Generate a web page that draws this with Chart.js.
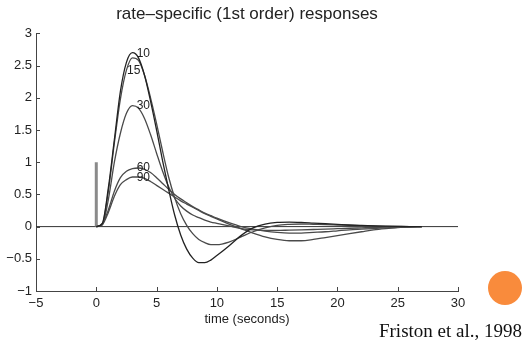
<!DOCTYPE html>
<html>
<head>
<meta charset="utf-8">
<script src="https://cdn.jsdelivr.net/npm/chart.js@4.4.1/dist/chart.umd.min.js"></script>
<style>
  html, body { margin: 0; padding: 0; background: #fff; }
  #wrap { width: 531px; height: 342px; }
</style>
</head>
<body>
<div id="wrap"><canvas id="c" width="531" height="342"></canvas></div>
<script>
// time axis (seconds) shared by all responses
const TIME = [0, 0.5, 1, 1.5, 2, 2.5, 3, 3.5, 4, 4.5, 5, 5.5, 6, 6.5, 7, 7.5, 8, 8.5, 9, 9.5, 10,
  11, 12, 13, 14, 15, 16, 17, 18, 19, 20, 21, 22, 23, 24, 25, 26, 27];

const resp10 = [0, 0.05, 0.6, 1.35, 2.1, 2.55, 2.7, 2.62, 2.35, 1.95, 1.5, 1.02, 0.58, 0.18, -0.13, -0.35, -0.49, -0.56, -0.56, -0.52, -0.45,
  -0.3, -0.14, -0.02, 0.04, 0.065, 0.07, 0.065, 0.055, 0.045, 0.035, 0.025, 0.018, 0.012, 0.007, 0.003, 0.001, 0];
const resp15 = [0, 0.04, 0.55, 1.3, 1.98, 2.43, 2.62, 2.58, 2.35, 2.0, 1.6, 1.17, 0.77, 0.45, 0.2, 0.02, -0.11, -0.2, -0.25, -0.28, -0.28,
  -0.24, -0.16, -0.08, -0.02, 0.02, 0.035, 0.04, 0.035, 0.03, 0.024, 0.018, 0.013, 0.009, 0.005, 0.003, 0.001, 0];
const resp30 = [0, 0.03, 0.42, 1.0, 1.45, 1.76, 1.88, 1.84, 1.68, 1.43, 1.14, 0.86, 0.62, 0.44, 0.32, 0.24, 0.18, 0.14, 0.1, 0.07, 0.05,
  0.01, -0.03, -0.05, -0.06, -0.06, -0.055, -0.05, -0.045, -0.04, -0.033, -0.026, -0.02, -0.014, -0.009, -0.005, -0.002, 0];
const resp60 = [0, 0.04, 0.26, 0.55, 0.76, 0.86, 0.9, 0.91, 0.89, 0.84, 0.76, 0.67, 0.58, 0.5, 0.43, 0.37, 0.31, 0.26, 0.21, 0.17, 0.13,
  0.06, 0.0, -0.04, -0.07, -0.09, -0.1, -0.1, -0.09, -0.08, -0.065, -0.05, -0.04, -0.03, -0.02, -0.01, -0.005, 0];
const resp90 = [0, 0.03, 0.22, 0.47, 0.65, 0.73, 0.77, 0.77, 0.75, 0.7, 0.64, 0.58, 0.52, 0.46, 0.4, 0.35, 0.3, 0.25, 0.2, 0.16, 0.12,
  0.04, -0.03, -0.1, -0.16, -0.2, -0.22, -0.22, -0.2, -0.17, -0.14, -0.11, -0.08, -0.05, -0.03, -0.015, -0.005, 0];

const SERIES = [resp10, resp15, resp30, resp60, resp90];
const CURVE_LABELS = ['10', '15', '30', '60', '90'];
// where each curve label sits (time, value)
const LABEL_T = [3.35, 2.55, 3.35, 3.35, 3.35];
const LABEL_V = [2.68, 2.42, 1.88, 0.91, 0.76];

// stimulus bar and baseline
const STIM_T = [0, 0];
const STIM_V = [0, 1];
const BASE_T = [-5, 30];
const BASE_V = [0, 0];

const X_TICKS = [-5, 0, 5, 10, 15, 20, 25, 30];
const Y_TICKS = [-1, -0.5, 0, 0.5, 1, 1.5, 2, 2.5, 3];

const toPts = (xs, ys) => xs.map((x, i) => ({ x: x, y: ys[i] }));
const minus = v => String(v).replace('-', '\u2212');
const SANS = '"Liberation Sans", Arial, sans-serif';

const datasets = SERIES.map((s, i) => ({
  label: CURVE_LABELS[i],
  data: toPts(TIME, s),
  borderColor: i === 0 ? '#222' : '#4a4a4a',
  borderWidth: 1.3,
  pointRadius: 0,
  cubicInterpolationMode: 'monotone',
  fill: false,
}));
datasets.push({
  label: 'stimulus',
  data: toPts(STIM_T, STIM_V),
  borderColor: '#8a8a8a',
  borderWidth: 3,
  pointRadius: 0,
});
datasets.push({
  label: 'baseline',
  data: toPts(BASE_T, BASE_V),
  borderColor: '#333',
  borderWidth: 1,
  pointRadius: 0,
});

// inward ticks, curve labels, citation and dot
const extras = {
  id: 'extras',
  afterDraw(chart) {
    const { ctx, chartArea, scales } = chart;
    const xs = scales.x, ys = scales.y;
    ctx.save();
    ctx.strokeStyle = '#444';
    ctx.lineWidth = 1;
    ctx.beginPath();
    X_TICKS.forEach(t => {
      const px = Math.round(xs.getPixelForValue(t)) + 0.5;
      ctx.moveTo(px, chartArea.bottom);
      ctx.lineTo(px, chartArea.bottom - 4);
    });
    Y_TICKS.forEach(t => {
      const py = Math.round(ys.getPixelForValue(t)) + 0.5;
      ctx.moveTo(chartArea.left, py);
      ctx.lineTo(chartArea.left + 4, py);
    });
    ctx.stroke();

    ctx.fillStyle = '#222';
    ctx.font = '12px ' + SANS;
    ctx.textAlign = 'left';
    ctx.textBaseline = 'middle';
    CURVE_LABELS.forEach((lab, i) => {
      ctx.fillText(lab, xs.getPixelForValue(LABEL_T[i]), ys.getPixelForValue(LABEL_V[i]));
    });

    ctx.fillStyle = '#F98B3C';
    ctx.beginPath();
    ctx.arc(505, 288, 17, 0, Math.PI * 2);
    ctx.fill();

    ctx.fillStyle = '#111';
    ctx.font = '19px "Liberation Serif", "Times New Roman", serif';
    ctx.textAlign = 'right';
    ctx.textBaseline = 'alphabetic';
    ctx.fillText('Friston et al., 1998', 522, 337);
    ctx.restore();
  }
};

new Chart(document.getElementById('c'), {
  type: 'line',
  data: { datasets },
  options: {
    responsive: false,
    animation: false,
    layout: { padding: { left: 0, right: 73, top: 0, bottom: 0 } },
    plugins: {
      legend: { display: false },
      tooltip: { enabled: false },
      title: {
        display: true,
        text: 'rate\u2013specific (1st order) responses',
        fullSize: false,
        color: '#222',
        font: { family: SANS, size: 17, weight: 'normal' },
        padding: { top: 4, bottom: 9 },
      },
    },
    scales: {
      x: {
        type: 'linear',
        min: -5,
        max: 30,
        grid: { display: false, drawTicks: false },
        border: { display: true, color: '#444', width: 1 },
        afterBuildTicks: s => { s.ticks = X_TICKS.map(v => ({ value: v })); },
        ticks: {
          color: '#222',
          padding: 5,
          maxRotation: 0,
          font: { family: SANS, size: 13 },
          callback: v => minus(v),
        },
        title: {
          display: true,
          text: 'time (seconds)',
          color: '#222',
          font: { family: SANS, size: 13 },
          padding: { top: 0, bottom: 15 },
        },
        afterFit: s => { s.height = 51; },
      },
      y: {
        type: 'linear',
        min: -1,
        max: 3,
        grid: { display: false, drawTicks: false },
        border: { display: true, color: '#444', width: 1 },
        afterBuildTicks: s => { s.ticks = Y_TICKS.map(v => ({ value: v })); },
        ticks: {
          color: '#222',
          padding: 4,
          font: { family: SANS, size: 13 },
          callback: v => minus(v),
        },
        afterFit: s => { s.width = 36; },
      },
    },
  },
  plugins: [extras],
});
</script>
</body>
</html>
